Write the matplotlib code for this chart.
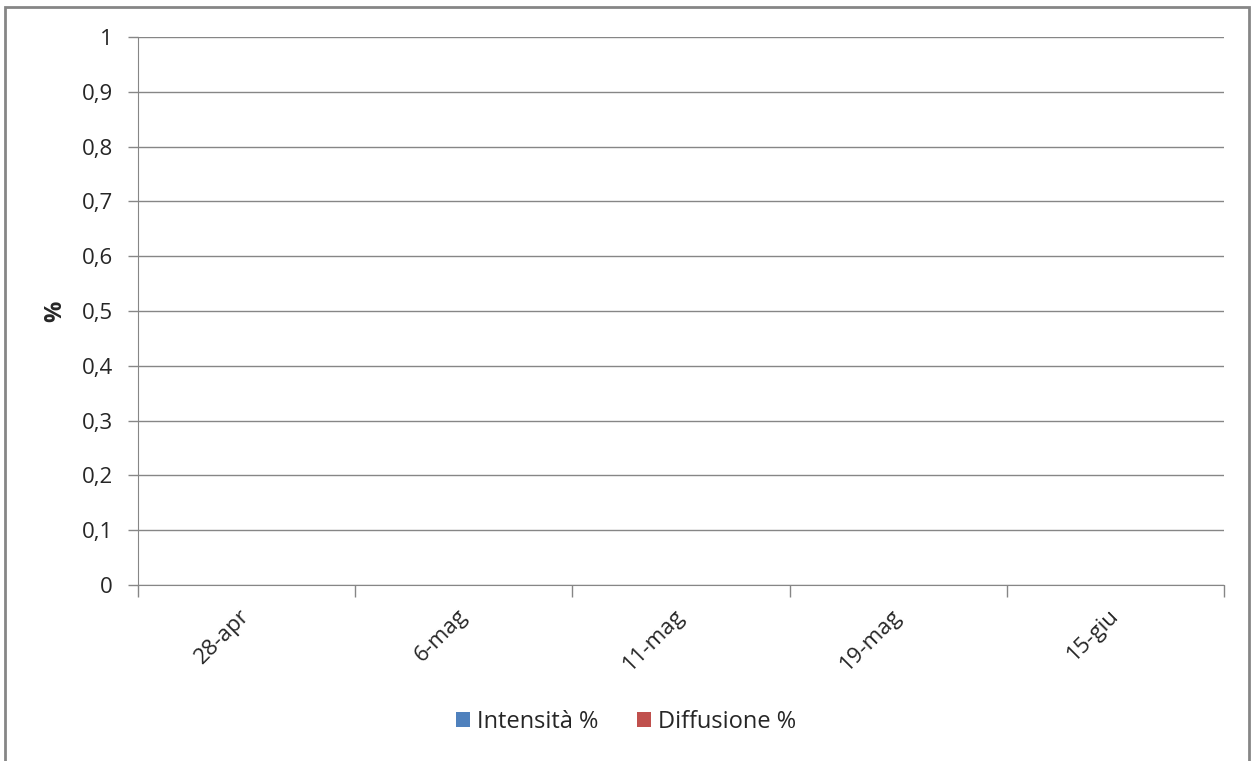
import numpy as np
import matplotlib.pyplot as plt
from matplotlib.patches import Rectangle

plt.rcParams['font.family'] = ['Open Sans', 'DejaVu Sans']

dates = ["28-apr", "6-mag", "11-mag", "19-mag", "15-giu"]
intensita = [0, 0, 0, 0, 0]
diffusione = [0, 0, 0, 0, 0]
yticks = [0, 0.1, 0.2, 0.3, 0.4, 0.5, 0.6, 0.7, 0.8, 0.9, 1]

GRAY = "#868686"
TEXT = "#262626"

fig = plt.figure(figsize=(12.52, 7.61), dpi=100)
ax = fig.add_axes([138 / 1252, 1 - 585 / 761, (1224 - 138) / 1252, (585 - 37) / 761])

x = np.arange(len(dates))
w = 0.3
ax.bar(x - w / 2, intensita, w, color="#4F81BD", label="Intensità %")
ax.bar(x + w / 2, diffusione, w, color="#C0504D", label="Diffusione %")

ax.set_xlim(-0.5, len(dates) - 0.5)
ax.set_ylim(0, 1)
ax.set_yticks(yticks)
ax.set_yticklabels([("%g" % v).replace(".", ",") for v in yticks], fontsize=16, color=TEXT)
ax.yaxis.grid(True, color=GRAY, linewidth=1)
ax.set_axisbelow(True)

ax.set_xticks(x)
ax.set_xticklabels(dates, rotation=45, ha="right", va="center", rotation_mode="anchor",
                   fontsize=16, color=TEXT)
ax.set_xticks(np.arange(len(dates) + 1) - 0.5, minor=True)
ax.tick_params(axis="x", which="major", length=0, pad=20)
ax.tick_params(axis="x", which="minor", length=8.5, color=GRAY, width=1)
ax.tick_params(axis="y", length=7, color=GRAY, width=1, pad=11)

for s in ["top", "right"]:
    ax.spines[s].set_visible(False)
ax.spines["left"].set_color(GRAY)
ax.spines["bottom"].set_color(GRAY)

ax.set_ylabel("%", fontsize=17, fontweight="bold", color=TEXT)
ax.yaxis.set_label_coords((67 - 138) / 1086, 0.5)

fig.legend(loc="center", bbox_to_anchor=(0.5, 1 - 722 / 761), ncol=2, frameon=False,
           fontsize=17, handlelength=0.6, handleheight=0.6, handletextpad=0.3,
           columnspacing=1.6, labelcolor=TEXT)

fig.patches.append(Rectangle((5 / 1252, -0.1), (1249 - 5) / 1252, 1.1 - 7 / 761,
                             transform=fig.transFigure, fill=False,
                             edgecolor=GRAY, linewidth=2))

fig.savefig("out.png", dpi=100)
